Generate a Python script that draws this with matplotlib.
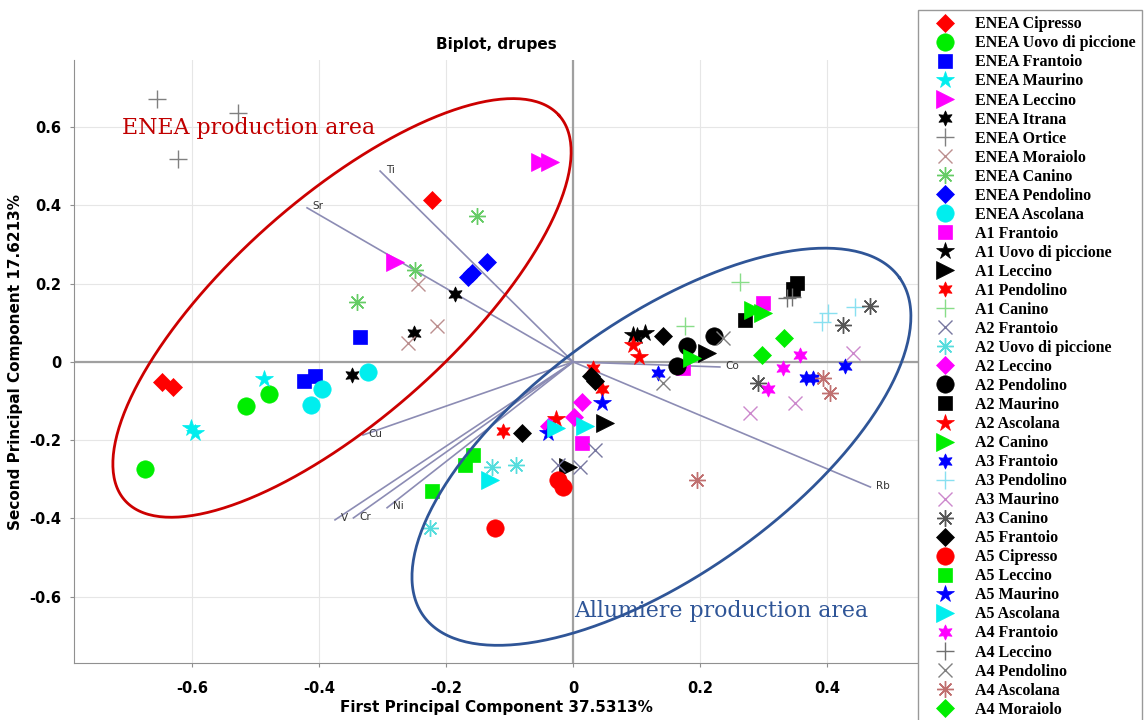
import numpy as np
import matplotlib.pyplot as plt

# groups in legend order
cultivars = ['ENEA Cipresso', 'ENEA Uovo di piccione', 'ENEA Frantoio', 'ENEA Maurino',
             'ENEA Leccino', 'ENEA Itrana', 'ENEA Ortice', 'ENEA Moraiolo', 'ENEA Canino',
             'ENEA Pendolino', 'ENEA Ascolana', 'A1 Frantoio', 'A1 Uovo di piccione',
             'A1 Leccino', 'A1 Pendolino', 'A1 Canino', 'A2 Frantoio', 'A2 Uovo di piccione',
             'A2 Leccino', 'A2 Pendolino', 'A2 Maurino', 'A2 Ascolana', 'A2 Canino',
             'A3 Frantoio', 'A3 Pendolino', 'A3 Maurino', 'A3 Canino', 'A5 Frantoio',
             'A5 Cipresso', 'A5 Leccino', 'A5 Maurino', 'A5 Ascolana', 'A4 Frantoio',
             'A4 Leccino', 'A4 Pendolino', 'A4 Ascolana', 'A4 Moraiolo']

pc1 = [[-0.648, -0.630, -0.222], [-0.674, -0.515, -0.479], [-0.335, -0.424, -0.406],
       [-0.487, -0.602, -0.595], [-0.052, -0.036, -0.280], [-0.186, -0.250, -0.348],
       [-0.655, -0.528, -0.622], [-0.244, -0.214, -0.260], [-0.151, -0.249, -0.340],
       [-0.165, -0.135, -0.160], [-0.323, -0.395, -0.413], [0.299, 0.173, 0.014],
       [0.094, 0.113, 0.100], [0.050, -0.008, 0.211], [-0.110, 0.031, 0.046],
       [0.263, 0.176], [0.035, 0.011, -0.024], [-0.128, -0.090, -0.225],
       [0.014, 0.002, -0.038], [0.180, 0.164, 0.222], [0.353, 0.346, 0.271],
       [0.094, 0.104, -0.027], [0.283, 0.299, 0.187], [0.134, 0.367, 0.378, 0.428],
       [0.402, 0.392, 0.444], [0.441, 0.350, 0.279], [0.468, 0.425, 0.291],
       [0.142, -0.080, 0.028, 0.035], [-0.024, -0.016, -0.123], [-0.157, -0.170, -0.222],
       [-0.039, 0.046], [-0.131, 0.019, -0.027], [0.357, 0.331, 0.307],
       [0.337, 0.345], [0.236, 0.142], [0.394, 0.405, 0.195], [0.332, 0.298]]

pc2 = [[-0.051, -0.064, 0.414], [-0.274, -0.113, -0.082], [0.064, -0.050, -0.037],
       [-0.043, -0.170, -0.182], [0.511, 0.511, 0.256], [0.174, 0.074, -0.033],
       [0.673, 0.637, 0.519], [0.200, 0.092, 0.049], [0.373, 0.235, 0.153],
       [0.217, 0.256, 0.228], [-0.026, -0.069, -0.110], [0.151, -0.015, -0.207],
       [0.069, 0.074, 0.066], [-0.157, -0.270, 0.023], [-0.177, -0.015, -0.069],
       [0.205, 0.092], [-0.225, -0.270, -0.263], [-0.269, -0.263, -0.425],
       [-0.102, -0.141, -0.164], [0.041, -0.010, 0.066], [0.202, 0.187, 0.107],
       [0.043, 0.013, -0.146], [0.133, 0.125, 0.010], [-0.028, -0.041, -0.041, -0.010],
       [0.125, 0.102, 0.141], [0.023, -0.105, -0.130], [0.143, 0.095, -0.054],
       [0.067, -0.182, -0.036, -0.050], [-0.302, -0.320, -0.425], [-0.238, -0.263, -0.330],
       [-0.182, -0.105], [-0.302, -0.164, -0.169], [0.018, -0.015, -0.069],
       [0.164, 0.166], [0.061, -0.054], [-0.041, -0.079, -0.302], [0.061, 0.018]]

# loadings (variables)
elements = ['Ti', 'Sr', 'Cu', 'V', 'Cr', 'Ni', 'Co', 'Rb']
load1 = [-0.304, -0.419, -0.331, -0.375, -0.346, -0.293, 0.231, 0.468]
load2 = [0.488, 0.394, -0.187, -0.404, -0.399, -0.373, -0.013, -0.320]

xticks = [-0.6, -0.4, -0.2, 0, 0.2, 0.4]
xticklabels = ['-0.6', '-0.4', '-0.2', '0', '0.2', '0.4']
yticks = [-0.6, -0.4, -0.2, 0, 0.2, 0.4, 0.6]
yticklabels = ['-0.6', '-0.4', '-0.2', '0', '0.2', '0.4', '0.6']

# marker style per group: (marker, colour, filled, size)
HEX = (6, 1, 0)
AST = (8, 2, 0)
styles = [('D', '#ff0000', True, 9.5), ('o', '#00ee00', True, 12.5), ('s', '#0000ff', True, 10),
          ('*', '#00eeee', True, 13), ('>', '#ff00ff', True, 12.5), (HEX, '#000000', True, 11),
          ('+', '#808080', False, 13), ('x', '#bc8f8f', False, 10), (AST, '#66cc66', False, 12),
          ('D', '#0000ff', True, 9.5), ('o', '#00eeee', True, 12.5), ('s', '#ff00ff', True, 10),
          ('*', '#000000', True, 13), ('>', '#000000', True, 12.5), (HEX, '#ff0000', True, 11),
          ('+', '#88dd88', False, 13), ('x', '#7878a0', False, 10), (AST, '#55dddd', False, 12),
          ('D', '#ff00ff', True, 9.5), ('o', '#000000', True, 12.5), ('s', '#000000', True, 10),
          ('*', '#ff0000', True, 13), ('>', '#00ee00', True, 12.5), (HEX, '#0000ff', True, 11),
          ('+', '#88e0f0', False, 13), ('x', '#cc88cc', False, 10), (AST, '#555555', False, 12),
          ('D', '#000000', True, 9.5), ('o', '#ff0000', True, 12.5), ('s', '#00ee00', True, 10),
          ('*', '#0000ff', True, 13), ('>', '#00eeee', True, 12.5), (HEX, '#ff00ff', True, 11),
          ('+', '#707070', False, 13), ('x', '#808080', False, 10), (AST, '#c07070', False, 12),
          ('D', '#00ee00', True, 9.5)]

fig = plt.figure(figsize=(11.44, 7.2), dpi=100)
ax = fig.add_axes([74 / 1144, 57 / 720, 844 / 1144, 603 / 720])
ax.set_xlim(-0.786, 0.543)
ax.set_ylim(-0.77, 0.772)

ax.grid(color='#e6e6e6', lw=0.8, zorder=0)
ax.set_axisbelow(True)
ax.axhline(0, color='#a0a0a0', lw=1.6, zorder=1)
ax.axvline(0, color='#a0a0a0', lw=1.6, zorder=1)
for s in ['top', 'right']:
    ax.spines[s].set_visible(False)
for s in ['left', 'bottom']:
    ax.spines[s].set_color('#909090')

# loading vectors
for name, lx, ly in zip(elements, load1, load2):
    ax.plot([0, lx], [0, ly], color='#8c8cb4', lw=1.2, zorder=2)
    ax.annotate(name, (lx, ly), xytext=(4, 1), textcoords='offset points',
                fontsize=7.5, color='#333333', ha='left', va='center')

# scores
handles = []
for name, xs, ys, (m, c, filled, ms) in zip(cultivars, pc1, pc2, styles):
    h, = ax.plot(xs, ys, linestyle='none', marker=m, markersize=ms,
                 markerfacecolor=c if filled else 'none', markeredgecolor=c,
                 markeredgewidth=0.5 if filled else 1.0, label=name, zorder=3)
    handles.append(h)

# group ellipses (centre + conjugate semi-axes)
t = np.linspace(0, 2 * np.pi, 300)
enea_c, enea_u, enea_v = (-0.364, 0.138), (0.342, 0.492), (-0.115, 0.211)
allu_c, allu_u, allu_v = (0.139, -0.217), (0.375, 0.432), (-0.117, 0.267)
for (c, u, v), col in [((enea_c, enea_u, enea_v), '#cc0000'), ((allu_c, allu_u, allu_v), '#2f5597')]:
    ax.plot(c[0] + np.cos(t) * u[0] + np.sin(t) * v[0],
            c[1] + np.cos(t) * u[1] + np.sin(t) * v[1], color=col, lw=2, zorder=4)

ax.text(-0.710, 0.598, 'ENEA production area', color='#c00000', fontsize=15.8,
        family='DejaVu Serif', va='center', ha='left')
ax.text(0.002, -0.636, 'Allumiere production area', color='#2f5597', fontsize=15.8,
        family='DejaVu Serif', va='center', ha='left')

ax.set_xticks(xticks)
ax.set_xticklabels(xticklabels)
ax.set_yticks(yticks)
ax.set_yticklabels(yticklabels)
ax.tick_params(labelsize=10.5, length=3, color='#909090')
ax.tick_params(axis='x', pad=10)
ax.tick_params(axis='y', pad=6)
for lab in ax.get_xticklabels() + ax.get_yticklabels():
    lab.set_fontweight('bold')
ax.set_xlabel('First Principal Component 37.5313%', fontsize=11, fontweight='bold', labelpad=3)
ax.set_ylabel('Second Principal Component 17.6213%', fontsize=11, fontweight='bold', labelpad=5)
ax.set_title('Biplot, drupes', fontsize=11, fontweight='bold', pad=8)

leg = fig.legend(handles=handles, loc='upper left', bbox_to_anchor=(918 / 1144, 1 - 10 / 720),
                 borderaxespad=0, numpoints=1, handlelength=2.6, handletextpad=0.55,
                 borderpad=0.4, labelspacing=0.19, fancybox=False, framealpha=1,
                 edgecolor='#999999', prop={'family': 'Liberation Serif', 'weight': 'bold', 'size': 11.5})
leg.get_frame().set_linewidth(1.0)

fig.savefig('out.png', dpi=100)
